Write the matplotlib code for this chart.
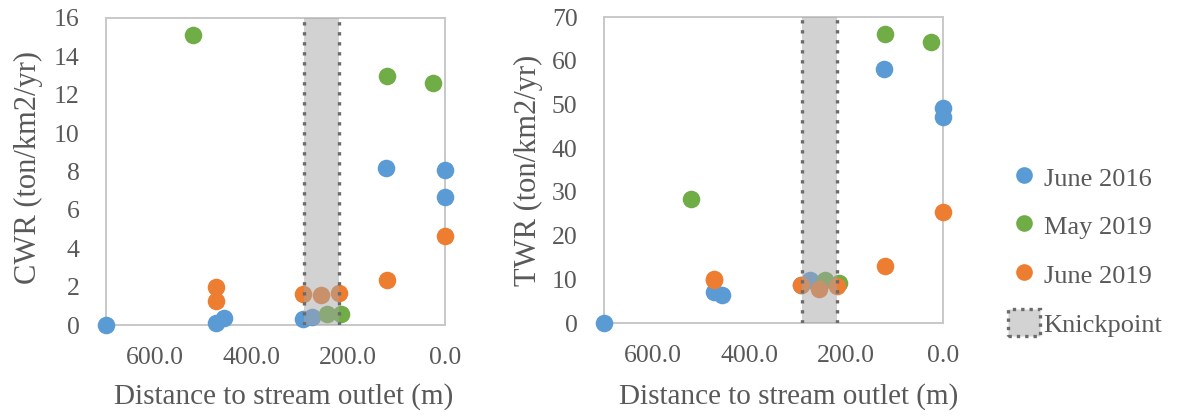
import matplotlib
matplotlib.use("Agg")
import matplotlib.pyplot as plt
from matplotlib.lines import Line2D
from matplotlib.patches import Patch
from matplotlib.ticker import FormatStrFormatter, MultipleLocator

plt.rcParams['font.family'] = ['Liberation Serif', 'DejaVu Serif']

# ---- data ----
series_names = ["June 2016", "May 2019", "June 2019"]
series_colors = ["#5B9BD5", "#70AD47", "#ED7D31"]

jun2016_dist = [700, 473, 456, 294, 275, 121, 1, 1]
jun2016_cwr = [0.0, 0.1, 0.35, 0.3, 0.4, 8.17, 8.08, 6.69]
jun2016_twr = [0.0, 7.2, 6.5, 8.6, 9.9, 58.1, 49.2, 47.1]

may2019_dist = [521, 244, 215, 120, 24]
may2019_cwr = [15.1, 0.57, 0.57, 13.0, 12.6]
may2019_twr = [28.4, 9.9, 9.15, 66.0, 64.3]

jun2019_dist = [473, 473, 294, 257, 218, 120, 1]
jun2019_cwr = [2.0, 1.25, 1.6, 1.55, 1.65, 2.35, 4.64]
jun2019_twr = [10.1, 9.9, 8.77, 7.8, 8.4, 12.95, 25.4]

knick_start = 292
knick_end = 218

x_ticks = [600, 400, 200, 0]

TXT = "#595959"

fig = plt.figure(figsize=(11.77, 4.16), dpi=100)
W, H = 1177, 416

def px_axes(l, t, r, b):
    return fig.add_axes([l / W, 1 - b / H, (r - l) / W, (b - t) / H])

ax1 = px_axes(106, 18, 445, 325)
ax2 = px_axes(604, 17, 943, 323)

dists = [jun2016_dist, may2019_dist, jun2019_dist]
cwrs = [jun2016_cwr, may2019_cwr, jun2019_cwr]
twrs = [jun2016_twr, may2019_twr, jun2019_twr]

def style(ax, ymax, ystep):
    ax.set_xlim(700, 0)
    ax.set_ylim(0, ymax)
    ax.set_xticks(x_ticks)
    ax.xaxis.set_major_formatter(FormatStrFormatter('%.1f'))
    ax.yaxis.set_major_locator(MultipleLocator(ystep))
    ax.tick_params(length=0, labelsize=18.5, colors=TXT)
    ax.tick_params(axis='y', pad=19)
    ax.tick_params(axis='x', pad=16)
    for s in ax.spines.values():
        s.set_color("#c8c8c8")
        s.set_linewidth(1.4)
    ax.axvspan(knick_end, knick_start, color="#a6a6a6", alpha=0.5, lw=0, zorder=4)
    for xv in (knick_start, knick_end):
        ax.axvline(xv, color="#6b6b6b", lw=2.4, ls=(0, (1, 2)), zorder=5)

for ax, vals in ((ax1, cwrs), (ax2, twrs)):
    for d, v, c in zip(dists, vals, series_colors):
        ax.scatter(d, v, s=160, color=c, lw=0, zorder=3, clip_on=False)

style(ax1, 16, 2)
style(ax2, 70, 10)

fig.text(28 / W, 1 - 168 / H, "CWR (ton/km2/yr)", rotation=90, ha='center', va='center',
         fontsize=22, color=TXT)
fig.text(528 / W, 1 - 170 / H, "TWR (ton/km2/yr)", rotation=90, ha='center', va='center',
         fontsize=22, color=TXT)
fig.text(284 / W, 1 - 397 / H, "Distance to stream outlet (m)", ha='center', va='center',
         fontsize=21, color=TXT)
fig.text(789 / W, 1 - 397 / H, "Distance to stream outlet (m)", ha='center', va='center',
         fontsize=21, color=TXT)

handles = [Line2D([], [], ls='none', marker='o', markersize=12, color=c, markeredgewidth=0)
           for c in series_colors]
handles.append(Patch(facecolor="#d3d3d3", edgecolor="#6b6b6b", linestyle=(0, (1, 1.5)), linewidth=2.4))
labels = series_names + ["Knickpoint"]
fig.legend(handles, labels, loc='center left', bbox_to_anchor=(1008 / W, 1 - 250 / H),
           frameon=False, fontsize=19, labelcolor=TXT, handlelength=1.2, handleheight=1.2,
           handletextpad=0.15, labelspacing=0.8, borderpad=0, borderaxespad=0)

fig.savefig("out.png", dpi=100)
